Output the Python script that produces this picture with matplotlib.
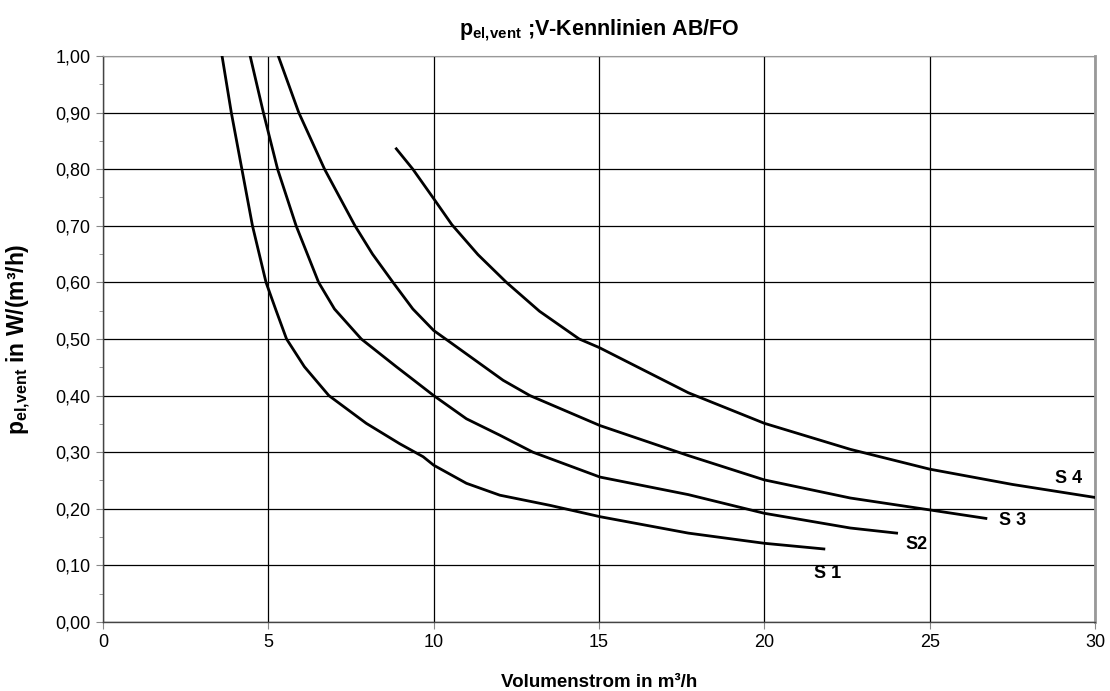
import matplotlib.pyplot as plt
import numpy as np
from matplotlib.ticker import MultipleLocator, FuncFormatter

plt.rcParams['font.family'] = ['Liberation Sans', 'DejaVu Sans']
plt.rcParams['mathtext.fontset'] = 'custom'
plt.rcParams['mathtext.rm'] = 'Liberation Sans'
plt.rcParams['mathtext.bf'] = 'Liberation Sans:bold'

# curves: volume flow (m3/h) vs specific power W/(m3/h)
s1_x = [3.60, 3.88, 4.20, 4.52, 4.93, 5.23, 5.55, 6.09, 6.83, 7.96, 8.97, 9.68, 10.0, 10.99, 12.0, 13.52, 15.03, 17.7, 20.0, 21.8]
s1_y = [1.00, 0.90, 0.80, 0.70, 0.60, 0.551, 0.50, 0.451, 0.40, 0.351, 0.315, 0.292, 0.277, 0.245, 0.224, 0.206, 0.186, 0.157, 0.139, 0.129]

s2_x = [4.45, 4.85, 5.28, 5.84, 6.52, 7.00, 7.81, 8.87, 9.27, 10.0, 10.99, 12.0, 13.0, 15.03, 17.7, 20.0, 22.6, 24.0]
s2_y = [1.00, 0.90, 0.80, 0.70, 0.60, 0.553, 0.50, 0.451, 0.433, 0.40, 0.359, 0.330, 0.300, 0.256, 0.225, 0.192, 0.166, 0.157]

s3_x = [5.30, 5.92, 6.70, 7.62, 8.15, 8.77, 9.37, 10.0, 10.48, 12.1, 12.91, 15.03, 17.7, 20.0, 22.6, 25.0, 26.7]
s3_y = [1.00, 0.90, 0.80, 0.70, 0.65, 0.60, 0.553, 0.515, 0.495, 0.427, 0.40, 0.347, 0.294, 0.251, 0.219, 0.198, 0.183]

s4_x = [8.87, 9.37, 10.0, 10.55, 11.34, 12.2, 13.2, 14.4, 15.0, 17.7, 20.0, 22.6, 25.0, 27.5, 30.0]
s4_y = [0.836, 0.80, 0.748, 0.702, 0.649, 0.60, 0.549, 0.50, 0.485, 0.405, 0.351, 0.305, 0.270, 0.243, 0.220]

labels = ['S 1', 'S2', 'S 3', 'S 4']
label_x = [21.9, 24.6, 27.5, 29.2]
label_y = [0.086, 0.136, 0.180, 0.254]

fig = plt.figure(figsize=(11.1, 6.91), dpi=100)
ax = fig.add_axes([0.0928, 0.0999, 0.8937, 0.8191])

for xs, ys in [(s1_x, s1_y), (s2_x, s2_y), (s3_x, s3_y), (s4_x, s4_y)]:
    ax.plot(xs, ys, color='black', lw=2.0, solid_joinstyle='round', zorder=3)

for t, lx, ly in zip(labels, label_x, label_y):
    ax.text(lx, ly, t, fontsize=13, fontweight='bold', ha='center', va='center')

ax.set_xlim(0, 30)
ax.set_ylim(0, 1.0)
ax.xaxis.set_major_locator(MultipleLocator(5))
ax.yaxis.set_major_locator(MultipleLocator(0.1))
ax.yaxis.set_minor_locator(MultipleLocator(0.05))
ax.yaxis.set_major_formatter(FuncFormatter(lambda v, p: f"{v:.2f}".replace('.', ',')))
ax.grid(True, which='major', color='black', lw=0.9)
ax.tick_params(which='major', length=5, color='#888888', labelsize=13, pad=4)
ax.tick_params(which='minor', length=3, color='#888888')

for s in ['left', 'bottom']:
    ax.spines[s].set_color('#444444')
    ax.spines[s].set_linewidth(1.0)
ax.spines['top'].set_color('#999999')
ax.spines['right'].set_color('#999999')
ax.spines['right'].set_linewidth(2.0)

ax.set_title(r"$\mathbf{p_{el,\!vent}}$ ;V-Kennlinien AB/FO", fontsize=15.5, fontweight='bold', pad=15)
ax.set_xlabel("Volumenstrom in m³/h", fontsize=13.5, fontweight='bold', labelpad=16)
ax.set_ylabel(r"$\mathbf{p_{el,\!vent}}$ in W/(m³/h)", fontsize=16.5, fontweight='bold', labelpad=16)

plt.savefig('out.png', dpi=100)
